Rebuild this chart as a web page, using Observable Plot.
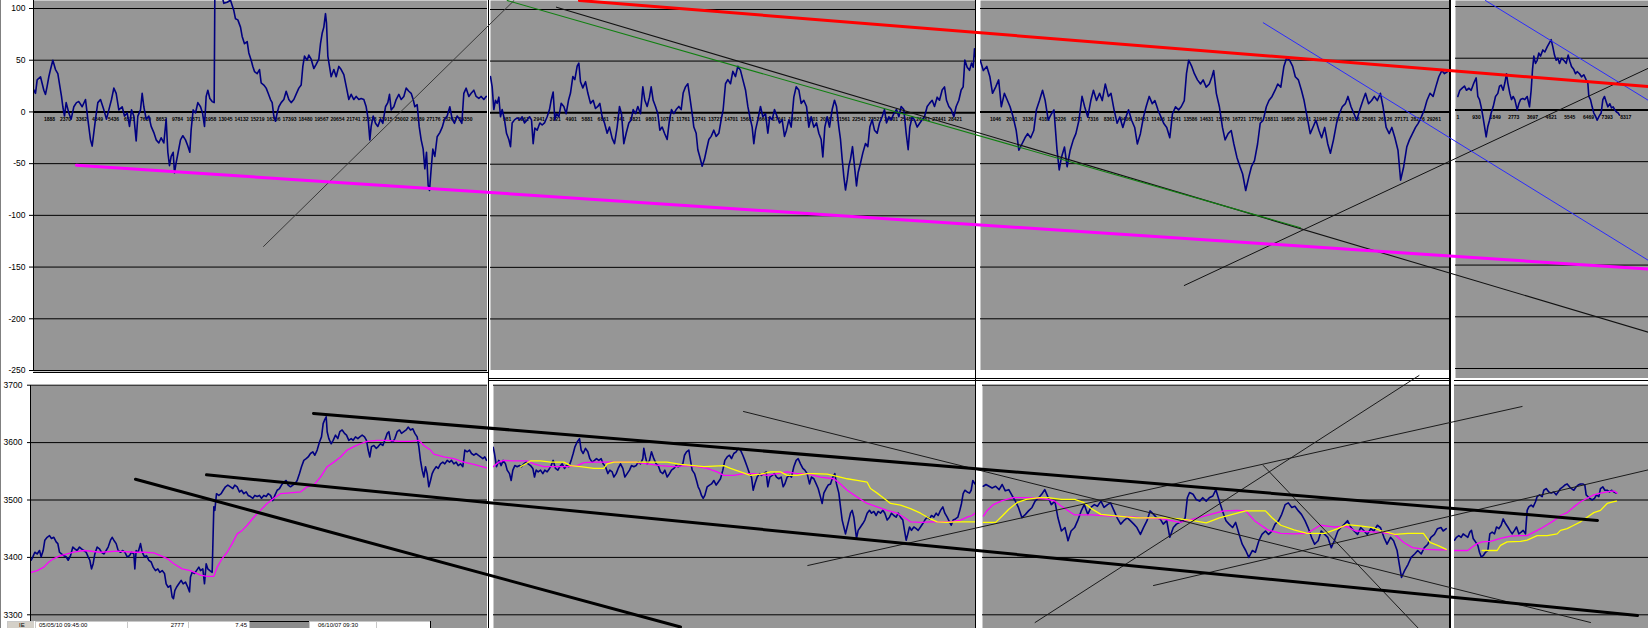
<!DOCTYPE html>
<html><head><meta charset="utf-8">
<script src="https://cdn.jsdelivr.net/npm/d3@7"></script>
<script src="https://cdn.jsdelivr.net/npm/@observablehq/plot@0.6"></script>
<style>
html,body{margin:0;padding:0;background:#fff;}
#root{position:relative;width:1648px;height:628px;overflow:hidden;background:#fff;font-family:"Liberation Sans",Arial,sans-serif;}
#root svg{position:absolute;overflow:hidden;}
.d{position:absolute;}
.sbc{position:absolute;top:0;height:7px;box-sizing:border-box;border-left:1px solid #c8c8c8;border-top:1px solid #c8c8c8;overflow:hidden;font:6px/6px "Liberation Sans",Arial,sans-serif;color:#000;white-space:nowrap;}
.sbc span{position:absolute;top:0px;}
</style></head><body><div id="root"></div><script>
// ---------------- DATA ----------------
// Oscillator (top) gridline / tick values
const oscTicks = [100, 50, 0, -50, -100, -150, -200, -250];
// Price (bottom) gridline / tick values
const priceTicks = [3700, 3600, 3500, 3400, 3300];

// Oscillator series, one per chart window: [bar, value]
const oscP1 = [[97,23],[105,18],[110,31],[120,34],[130,21],[135,17],[140,25],[145,34],[150,41],[157,50],[165,41],[172,37],[178,25],[183,15],[187,5],[192,-4],[197,9],[205,-1],[212,-7],[220,5],[228,9],[235,10],[245,5],[255,12],[262,-7],[270,-27],[275,-33],[280,-20],[285,-7],[292,9],[300,12],[310,2],[318,-7],[325,2],[333,12],[340,23],[347,18],[355,2],[365,5],[372,-4],[380,-1],[387,-14],[393,2],[400,-4],[407,-28],[412,-4],[420,2],[425,18],[430,5],[437,-7],[445,-4],[452,-14],[460,-20],[467,-27],[475,-30],[482,-25],[490,-30],[497,-7],[502,-39],[507,-52],[512,-43],[518,-39],[522,-59],[527,-49],[533,-39],[540,-27],[547,-23],[555,-27],[562,-33],[568,-39],[572,-17],[578,2],[585,-1],[592,9],[600,5],[606,-1],[612,-14],[617,15],[622,21],[628,13],[635,10],[641,9],[643,112],[650,115],[660,118],[670,105],[680,106],[690,108],[700,98],[705,90],[712,89],[720,82],[725,73],[732,66],[740,68],[745,57],[752,50],[757,44],[762,39],[770,37],[777,41],[782,28],[790,26],[797,23],[803,18],[810,12],[815,9],[820,-4],[825,-9],[830,-1],[835,5],[842,9],[850,12],[857,20],[865,12],[872,9],[880,12],[888,18],[895,23],[902,26],[907,44],[912,54],[920,50],[925,55],[932,51],[940,42],[947,46],[955,51],[960,66],[965,76],[970,82],[975,95],[978,86],[982,54],[987,44],[992,34],[1000,41],[1007,34],[1015,44],[1022,41],[1030,36],[1037,25],[1045,12],[1052,17],[1060,12],[1067,15],[1075,12],[1082,13],[1090,12],[1097,5],[1103,-7],[1108,-27],[1112,-14],[1118,-4],[1125,-11],[1132,-14],[1140,-7],[1147,-11],[1155,5],[1162,9],[1167,17],[1172,2],[1180,5],[1187,12],[1195,17],[1202,12],[1210,15],[1217,23],[1225,20],[1232,18],[1238,12],[1243,5],[1250,7],[1256,-14],[1262,-27],[1268,-36],[1273,-55],[1278,-39],[1283,-71],[1287,-76],[1292,-55],[1297,-36],[1303,-43],[1310,-24],[1318,-20],[1325,-15],[1332,-7],[1340,-4],[1348,5],[1355,-7],[1362,-11],[1370,-4],[1377,-7],[1384,-11],[1390,18],[1397,23],[1405,15],[1412,18],[1420,21],[1427,15],[1435,13],[1442,15],[1450,12],[1457,15]];
const oscP2 = [[30,35],[35,25],[40,3],[45,12],[50,9],[55,15],[60,-4],[65,3],[72,-7],[78,-20],[85,-26],[90,-33],[95,-10],[102,-7],[110,-5],[118,-7],[125,-4],[132,-10],[140,-7],[147,-4],[153,-7],[158,-30],[163,-15],[170,-17],[178,-10],[185,-12],[192,-10],[200,-4],[207,3],[212,12],[218,20],[223,-7],[228,-1],[235,-4],[242,9],[250,6],[257,-1],[264,12],[270,19],[277,35],[283,32],[290,45],[295,48],[300,30],[307,24],[315,30],[322,19],[330,9],[338,12],[345,4],[352,6],[358,9],[365,-4],[372,-10],[380,-20],[387,-14],[395,-25],[402,-30],[410,-14],[417,6],[423,-1],[430,-30],[437,-20],[445,-10],[452,-7],[458,3],[465,-1],[472,6],[480,-1],[487,25],[493,12],[500,6],[507,15],[512,25],[518,12],[525,6],[532,-1],[538,-17],[545,-14],[552,-20],[560,-26],[567,-7],[573,3],[580,-1],[587,3],[595,6],[602,3],[608,19],[615,25],[622,28],[628,15],[635,-1],[640,-14],[647,-20],[652,-36],[658,-43],[665,-52],[672,-45],[678,-36],[685,-26],[692,-23],[700,-17],[707,-23],[715,-20],[722,-7],[728,3],[735,28],[742,32],[750,28],[757,40],[765,35],[772,45],[780,41],[787,32],[795,22],[802,6],[808,-4],[815,-14],[820,-30],[825,-17],[832,-7],[840,6],[847,-4],[855,-1],[862,-20],[868,-4],[875,-7],[882,3],[890,-4],[897,-10],[905,-7],[912,-23],[918,-17],[925,-7],[932,-14],[940,15],[947,25],[955,22],[962,9],[970,12],[978,6],[985,-14],[992,-4],[1000,-14],[1008,-10],[1015,-20],[1022,-26],[1027,-43],[1033,-14],[1040,-4],[1047,-14],[1055,3],[1062,12],[1068,6],[1075,-14],[1080,-26],[1085,-45],[1090,-62],[1095,-75],[1100,-65],[1105,-52],[1110,-45],[1116,-33],[1122,-52],[1128,-71],[1133,-58],[1140,-49],[1147,-39],[1155,-30],[1162,-33],[1168,-14],[1175,-7],[1182,-17],[1190,-20],[1197,-10],[1205,-4],[1212,3],[1218,-10],[1225,-4],[1232,-7],[1240,-1],[1248,3],[1255,-4],[1262,6],[1270,3],[1277,-20],[1283,-36],[1288,-14],[1295,-4],[1302,-7],[1310,-14],[1318,-10],[1325,-7],[1332,-4],[1340,6],[1347,9],[1355,12],[1362,6],[1370,15],[1377,12],[1385,22],[1392,25],[1398,12],[1405,6],[1412,3],[1420,-4],[1427,6],[1435,12],[1442,22],[1448,25],[1453,51],[1460,44],[1467,41],[1473,48],[1478,44],[1482,62],[1485,54]];
const oscP3 = [[45,50],[52,40],[60,44],[67,34],[73,18],[80,24],[87,31],[93,5],[100,18],[107,11],[113,5],[120,-5],[127,-18],[133,-37],[140,-31],[147,-25],[153,-21],[160,-25],[167,-18],[173,2],[180,11],[187,21],[193,11],[200,-8],[207,-2],[213,2],[220,-37],[225,-56],[230,-44],[237,-34],[243,-53],[250,-37],[257,-27],[263,-21],[270,-8],[277,15],[283,5],[290,-5],[297,11],[303,21],[310,11],[317,18],[323,11],[330,27],[337,15],[343,18],[350,2],[357,-11],[363,-5],[370,-15],[377,-5],[383,2],[390,-8],[397,-15],[403,-31],[410,-21],[417,-5],[423,5],[430,15],[437,8],[443,11],[450,2],[457,-5],[463,-11],[470,-15],[477,-25],[483,-2],[490,5],[497,2],[503,5],[510,11],[515,37],[520,50],[527,44],[533,37],[540,31],[547,27],[553,31],[560,24],[567,27],[573,34],[577,40],[583,18],[590,5],[597,-15],[603,-27],[610,-21],[617,-18],[623,-31],[630,-44],[637,-53],[643,-60],[650,-76],[657,-63],[663,-53],[670,-47],[677,-31],[683,-11],[690,-8],[697,5],[703,11],[710,15],[717,21],[723,27],[730,24],[737,44],[743,52],[750,50],[757,44],[763,34],[770,31],[777,21],[783,11],[790,-5],[797,-21],[803,-15],[810,-8],[817,-18],[823,-25],[830,-15],[837,-31],[843,-40],[850,-27],[857,-11],[863,-2],[870,5],[877,8],[883,15],[890,5],[897,-2],[903,-8],[910,2],[917,11],[923,18],[930,8],[937,11],[943,15],[950,11],[957,18],[963,5],[970,-15],[977,-21],[983,-15],[990,-25],[997,-37],[1003,-66],[1010,-53],[1017,-34],[1023,-27],[1030,-21],[1037,-15],[1043,-11],[1050,-5],[1057,2],[1063,11],[1070,18],[1077,15],[1083,24],[1090,34],[1097,40],[1103,37],[1110,39]];
const oscP4 = [[232,13],[238,19],[245,21],[252,23],[258,19],[265,21],[272,19],[280,26],[287,31],[292,13],[297,10],[302,3],[307,-6],[312,-16],[317,-26],[322,-16],[327,-10],[332,-3],[338,3],[345,13],[352,16],[357,23],[362,24],[368,19],[373,26],[378,35],[382,26],[388,16],[393,10],[398,13],[403,10],[410,0],[415,6],[420,10],[427,11],[433,10],[440,13],[447,3],[452,19],[456,39],[460,52],[465,45],[470,48],[475,55],[480,52],[487,58],[493,56],[500,61],[507,65],[512,68],[517,61],[522,53],[527,48],[532,50],[537,45],[543,50],[550,48],[557,45],[563,53],[568,47],[573,42],[580,39],[585,35],[590,37],[597,35],[603,32],[610,34],[617,29],[622,26],[625,13],[630,10],[635,3],[640,-3],[645,-6],[650,-10],[656,-6],[662,-3],[667,10],[672,13],[677,8],[682,3],[688,6],[693,2],[698,3],[703,0],[708,-2],[713,-3],[717,-5]];

// Price series and moving averages, one set per chart window: [bar, value]
const priceP1 = [[92,3395],[97,3401],[103,3409],[110,3406],[117,3412],[122,3401],[128,3412],[133,3430],[140,3435],[147,3438],[153,3433],[160,3435],[167,3427],[172,3424],[177,3409],[183,3406],[190,3403],[197,3401],[203,3395],[210,3403],[217,3418],[223,3415],[230,3412],[237,3418],[243,3415],[250,3412],[257,3409],[263,3401],[268,3395],[273,3380],[278,3389],[283,3406],[290,3418],[297,3415],[303,3409],[310,3406],[317,3412],[323,3418],[330,3430],[335,3435],[340,3430],[347,3424],[353,3412],[360,3409],[367,3412],[373,3409],[380,3401],[387,3403],[393,3409],[400,3406],[403,3380],[407,3412],[413,3409],[420,3424],[425,3409],[432,3401],[438,3403],[445,3395],[452,3392],[458,3383],[465,3377],[472,3380],[478,3374],[485,3377],[492,3372],[497,3354],[503,3348],[510,3351],[515,3331],[519,3328],[523,3342],[528,3348],[535,3354],[542,3360],[548,3354],[555,3357],[562,3348],[567,3340],[570,3366],[575,3374],[582,3372],[588,3377],[595,3383],[600,3377],[607,3380],[612,3354],[617,3389],[622,3380],[628,3377],[635,3374],[640,3488],[643,3482],[648,3511],[655,3508],[662,3511],[668,3517],[675,3523],[682,3526],[690,3523],[697,3520],[703,3526],[710,3523],[717,3514],[723,3517],[730,3511],[737,3514],[743,3508],[750,3506],[757,3503],[763,3508],[770,3506],[777,3508],[783,3503],[790,3508],[797,3506],[803,3511],[810,3508],[817,3499],[823,3508],[830,3517],[837,3520],[843,3526],[850,3531],[857,3534],[863,3526],[870,3523],[877,3526],[883,3528],[890,3534],[897,3546],[903,3558],[910,3569],[917,3572],[923,3575],[930,3581],[937,3584],[943,3578],[950,3587],[957,3601],[963,3610],[968,3633],[972,3639],[977,3645],[980,3619],[985,3607],[992,3598],[998,3604],[1005,3613],[1012,3607],[1018,3619],[1025,3622],[1032,3616],[1038,3613],[1045,3604],[1052,3607],[1058,3604],[1065,3610],[1072,3607],[1078,3610],[1085,3613],[1092,3610],[1098,3604],[1103,3587],[1108,3575],[1113,3593],[1120,3595],[1127,3590],[1133,3593],[1140,3598],[1147,3595],[1153,3604],[1160,3616],[1165,3619],[1170,3604],[1177,3601],[1183,3607],[1190,3619],[1197,3622],[1203,3616],[1210,3619],[1217,3622],[1223,3627],[1230,3622],[1237,3624],[1243,3616],[1250,3610],[1255,3593],[1260,3569],[1265,3552],[1270,3540],[1275,3558],[1280,3546],[1285,3523],[1290,3534],[1295,3546],[1300,3552],[1307,3558],[1313,3555],[1320,3563],[1327,3566],[1333,3563],[1340,3569],[1347,3566],[1353,3569],[1360,3563],[1367,3566],[1373,3560],[1380,3563],[1387,3558],[1393,3587],[1400,3584],[1407,3587],[1413,3581],[1420,3578],[1427,3581],[1433,3578],[1440,3575],[1447,3572],[1453,3575],[1458,3569]];
const maPinkP1 = [[92,3374],[110,3377],[130,3383],[145,3392],[160,3398],[180,3403],[200,3406],[220,3409],[250,3412],[300,3409],[350,3411],[400,3409],[430,3409],[460,3408],[480,3403],[500,3398],[520,3389],[545,3380],[570,3377],[600,3369],[620,3367],[640,3367],[650,3383],[665,3398],[680,3409],[695,3424],[710,3441],[725,3447],[740,3456],[760,3470],[780,3482],[800,3494],[820,3503],[840,3511],[860,3512],[900,3514],[920,3523],[940,3526],[960,3540],[980,3558],[1000,3566],[1020,3575],[1040,3587],[1060,3593],[1080,3598],[1100,3602],[1130,3604],[1160,3604],[1200,3602],[1230,3602],[1255,3604],[1270,3595],[1290,3587],[1300,3580],[1330,3575],[1360,3572],[1390,3566],[1420,3562],[1458,3556]];

const priceP2 = [[38,3592],[42,3581],[48,3558],[55,3569],[62,3560],[68,3569],[75,3563],[80,3552],[87,3546],[92,3534],[97,3552],[103,3560],[110,3558],[117,3560],[123,3558],[130,3563],[137,3566],[143,3563],[150,3560],[157,3555],[162,3540],[167,3552],[173,3549],[180,3552],[187,3546],[193,3552],[200,3549],[207,3555],[212,3560],[218,3569],[225,3555],[232,3552],[238,3558],[245,3563],[252,3555],[258,3560],[265,3558],[272,3569],[278,3581],[283,3592],[290,3601],[297,3607],[302,3587],[308,3581],[315,3590],[322,3584],[328,3572],[335,3566],[342,3569],[348,3572],[355,3569],[362,3572],[368,3563],[375,3558],[382,3546],[388,3552],[395,3549],[400,3540],[407,3546],[413,3555],[420,3563],[427,3555],[433,3540],[440,3546],[447,3552],[453,3560],[460,3558],[467,3560],[473,3566],[480,3563],[487,3572],[490,3590],[495,3575],[500,3563],[507,3569],[513,3584],[520,3572],[527,3563],[533,3560],[540,3549],[547,3546],[553,3552],[560,3540],[567,3546],[573,3552],[580,3555],[587,3560],[593,3558],[600,3560],[607,3563],[612,3578],[618,3584],[625,3587],[630,3569],[635,3552],[642,3546],[648,3534],[653,3523],[658,3517],[663,3508],[668,3503],[673,3508],[680,3523],[687,3526],[693,3528],[700,3534],[707,3526],[713,3531],[720,3537],[727,3552],[733,3569],[740,3575],[747,3578],[753,3572],[760,3581],[767,3584],[773,3590],[780,3587],[787,3578],[793,3569],[800,3558],[807,3546],[813,3540],[818,3517],[823,3528],[830,3540],[837,3546],[843,3543],[850,3546],[857,3549],[862,3523],[868,3540],[875,3543],[882,3546],[888,3540],[895,3537],[902,3540],[908,3523],[913,3528],[920,3540],[927,3543],[933,3540],[940,3558],[947,3569],[953,3572],[960,3563],[967,3555],[973,3552],[980,3546],[987,3528],[993,3540],[1000,3537],[1007,3528],[1013,3520],[1020,3505],[1025,3494],[1030,3512],[1037,3520],[1043,3526],[1050,3528],[1057,3540],[1063,3546],[1068,3528],[1075,3512],[1080,3488],[1085,3465],[1090,3453],[1095,3441],[1100,3453],[1105,3465],[1110,3477],[1115,3482],[1120,3470],[1125,3447],[1128,3433],[1133,3447],[1140,3453],[1147,3459],[1153,3465],[1160,3477],[1167,3482],[1173,3477],[1180,3480],[1187,3473],[1193,3480],[1200,3477],[1207,3482],[1213,3477],[1220,3465],[1227,3470],[1233,3477],[1240,3473],[1247,3470],[1253,3477],[1260,3470],[1267,3465],[1272,3447],[1277,3430],[1282,3441],[1287,3453],[1293,3447],[1300,3453],[1307,3450],[1313,3447],[1320,3453],[1327,3459],[1333,3465],[1340,3470],[1347,3467],[1353,3473],[1360,3470],[1367,3477],[1373,3473],[1380,3482],[1387,3488],[1393,3477],[1400,3470],[1407,3462],[1412,3456],[1418,3465],[1425,3467],[1432,3470],[1438,3482],[1443,3494],[1448,3511],[1453,3517],[1460,3514],[1467,3512],[1472,3517],[1477,3534],[1483,3528]];
const maPinkP2 = [[38,3558],[55,3566],[70,3569],[100,3568],[140,3568],[160,3563],[190,3558],[230,3558],[260,3558],[290,3560],[310,3565],[340,3566],[380,3566],[420,3566],[460,3566],[500,3563],[540,3560],[580,3558],[620,3560],[650,3558],[680,3555],[710,3549],[730,3543],[760,3543],[790,3546],[820,3546],[860,3543],[890,3546],[920,3549],[950,3546],[980,3546],[1020,3540],[1060,3537],[1080,3528],[1100,3517],[1130,3505],[1160,3494],[1190,3488],[1220,3482],[1250,3477],[1270,3470],[1290,3462],[1320,3461],[1350,3462],[1380,3462],[1410,3462],[1440,3465],[1460,3470],[1475,3473],[1483,3477]];
const maYellowP2 = [[120,3558],[150,3568],[180,3568],[210,3566],[250,3566],[270,3560],[300,3558],[340,3555],[370,3555],[380,3563],[400,3566],[450,3566],[500,3566],[560,3566],[600,3562],[640,3560],[670,3558],[700,3559],[730,3560],[750,3555],[780,3549],[810,3543],[840,3545],[870,3549],[900,3549],[920,3543],[950,3543],[980,3546],[1000,3546],[1040,3545],[1070,3541],[1100,3537],[1130,3534],[1160,3531],[1170,3520],[1190,3512],[1210,3503],[1230,3494],[1260,3491],[1290,3485],[1320,3477],[1350,3467],[1370,3462],[1400,3461],[1430,3462],[1460,3462],[1483,3462]];

const priceP3 = [[52,3524],[58,3527],[65,3524],[72,3521],[80,3524],[88,3518],[95,3527],[102,3516],[110,3518],[118,3507],[125,3498],[132,3487],[140,3469],[148,3475],[155,3481],[163,3487],[170,3498],[178,3504],[185,3510],[192,3518],[200,3504],[207,3492],[215,3498],[222,3469],[230,3446],[238,3452],[245,3429],[252,3446],[260,3452],[267,3464],[275,3481],[282,3492],[290,3475],[297,3487],[305,3492],[312,3489],[320,3498],[327,3487],[335,3492],[342,3495],[350,3481],[357,3469],[365,3458],[372,3464],[380,3469],[387,3464],[395,3458],[402,3452],[410,3440],[417,3452],[425,3464],[432,3481],[440,3475],[447,3469],[455,3467],[462,3458],[470,3464],[477,3435],[485,3452],[492,3458],[500,3461],[507,3464],[512,3469],[517,3504],[522,3513],[530,3510],[537,3501],[545,3498],[552,3504],[560,3498],[567,3504],[575,3507],[582,3518],[590,3498],[597,3481],[605,3464],[612,3458],[620,3452],[627,3461],[635,3440],[642,3423],[650,3412],[657,3400],[665,3412],[672,3409],[680,3429],[687,3440],[695,3446],[702,3440],[710,3446],[717,3458],[725,3464],[732,3475],[740,3492],[747,3495],[755,3487],[762,3489],[770,3481],[777,3475],[785,3464],[792,3452],[800,3435],[807,3423],[815,3429],[822,3446],[830,3440],[837,3435],[845,3417],[852,3429],[860,3446],[867,3452],[875,3458],[882,3464],[890,3452],[897,3446],[905,3440],[912,3452],[920,3446],[927,3440],[935,3450],[942,3446],[950,3456],[957,3452],[965,3435],[972,3423],[980,3435],[987,3429],[995,3412],[1000,3388],[1005,3365],[1012,3377],[1020,3388],[1027,3400],[1035,3406],[1042,3412],[1050,3406],[1057,3417],[1065,3423],[1072,3435],[1080,3440],[1087,3450],[1095,3452],[1100,3446],[1107,3450]];
const maPinkP3 = [[52,3472],[60,3481],[75,3492],[95,3499],[120,3504],[150,3504],[180,3503],[200,3501],[215,3498],[230,3489],[260,3474],[300,3474],[340,3472],[380,3471],[420,3469],[460,3467],[500,3461],[540,3469],[570,3475],[600,3481],[630,3482],[650,3481],[670,3464],[700,3448],[730,3442],[760,3441],[790,3442],[820,3456],[850,3453],[880,3454],[900,3446],[930,3445],[960,3443],[990,3440],[1010,3426],[1030,3417],[1060,3414],[1090,3413],[1107,3413]];
const maYellowP3 = [[52,3461],[80,3461],[95,3472],[110,3484],[130,3496],[150,3501],[180,3504],[200,3504],[230,3501],[260,3501],[280,3496],[300,3484],[320,3475],[360,3472],[400,3469],[440,3469],[470,3469],[500,3467],[530,3464],[560,3460],[590,3469],[620,3475],[650,3481],[695,3481],[710,3469],[730,3456],[760,3448],[790,3442],[830,3442],[860,3450],[880,3457],[910,3455],[940,3452],[960,3446],[990,3440],[1020,3442],[1055,3442],[1070,3426],[1090,3420],[1107,3414]];

const priceP4 = [[222,3430],[228,3435],[235,3438],[242,3435],[248,3441],[255,3438],[262,3435],[268,3444],[273,3447],[278,3433],[285,3427],[292,3421],[297,3409],[302,3401],[308,3403],[315,3409],[322,3412],[328,3441],[335,3444],[342,3441],[348,3453],[355,3450],[362,3456],[368,3467],[375,3459],[382,3453],[388,3447],[395,3441],[402,3447],[408,3453],[415,3441],[422,3444],[428,3447],[435,3441],[440,3482],[445,3488],[452,3491],[458,3488],[465,3497],[470,3506],[477,3509],[485,3506],[490,3517],[497,3520],[505,3514],[512,3512],[520,3514],[527,3509],[533,3514],[540,3520],[547,3523],[553,3526],[560,3528],[567,3523],[573,3520],[580,3517],[587,3523],[593,3526],[600,3528],[607,3528],[613,3526],[617,3509],[622,3506],[628,3503],[635,3500],[642,3503],[648,3509],[655,3506],[660,3520],[667,3523],[673,3517],[680,3517],[687,3514],[693,3517],[700,3514],[707,3512]];
const maPinkP4 = [[222,3412],[262,3412],[275,3418],[290,3424],[305,3427],[330,3428],[360,3433],[390,3437],[420,3438],[440,3438],[460,3444],[480,3450],[500,3457],[520,3464],[540,3473],[560,3478],[580,3488],[600,3497],[620,3503],[640,3509],[660,3512],[680,3514],[700,3516],[710,3512]];
const maYellowP4 = [[305,3412],[350,3412],[360,3421],[380,3427],[420,3428],[440,3430],[470,3438],[500,3438],[530,3441],[540,3447],[560,3450],[580,3456],[600,3462],[620,3470],[640,3478],[660,3482],[680,3494],[700,3497],[708,3498]];

// Category-axis labels printed along the zero line of each oscillator window
const barLabelsP1 = ["1888","2370","3362","4349","5436","6523","7610","8652","9784","10871","11958","13045","14132","15219","16306","17393","18480","19567","20654","21741","22828","23915","25002","26089","27176","28263","29350"];
const barLabelsP2 = ["981","1961","2941","3921","4901","5881","6861","7841","8821","9801","10781","11761","12741","13721","14701","15681","16661","17641","18621","19601","20581","21561","22541","23521","24501","25481","26461","27441","28421"];
const barLabelsP3 = ["1046","2091","3136","4181","5226","6271","7316","8361","9406","10451","11496","12541","13586","14631","15676","16721","17766","18811","19856","20901","21946","22991","24036","25081","26126","27171","28216","29261"];
const barLabelsP4 = ["1","930","1849","2773","3697","4621","5545","6469","7393","8317"];

// Hand-drawn trend lines (screen column, value)
const trendMagenta = [[76,-51.5],[1648,-152]];
const trendRed = [[579,107.7],[1648,24.6]];
const trendGrayUp = [[263,-130.1],[513.5,107.7]];
const trendGreen = [[506.7,107.7],[1300,-112.0]];
const trendBlackDown = [[556,101.3],[1648,-213]];
const trendBlackUp = [[1183.8,-167.8],[1648,42.3]];
const trendBlue1 = [[1262.8,86.2],[1648,-143.6]];
const trendBlue2 = [[1485,107.7],[1648,11.1]];

const chanUpper = [[313,3650.7],[1597,3464.3]];
const chanLower = [[206,3543.9],[1637,3298.8]];
const chanSteep = [[135,3536.2],[680,3278.7]];
const thin1 = [[743,3654.2],[1590,3286.6]];
const thin2 = [[1034.6,3286.6],[1418.5,3716.9]];
const thin3 = [[807.3,3385.9],[1521.6,3662.9]];
const thin4 = [[1153,3351],[1648,3552.6]];
const thin5 = [[1262.8,3560.1],[1420,3272.6]];

// Status bar texts
const statusTexts = ["IE","05/05/10 09:45:00","2777","7.45","","06/10/07 09:30","" ];

// ---------------- DRAWING ----------------
const root = document.getElementById("root");
const GRAY = "#969696", NAVY = "#000080", FONT = "'Liberation Sans', Arial, sans-serif";
const X = d => d[0], Y = d => d[1];

function mount(el, left, top) {
  el.style.position = "absolute";
  el.style.left = left + "px";
  el.style.top = top + "px";
  root.appendChild(el);
}
function box(left, top, w, h, color) {
  const e = document.createElement("div");
  e.className = "d";
  e.style.cssText = `left:${left}px;top:${top}px;width:${w}px;height:${h}px;background:${color};`;
  root.appendChild(e);
}

function oscPane(p) {
  const marks = [
    Plot.frame({fill: GRAY, stroke: "none"}),
    Plot.ruleY(oscTicks.filter(d => d !== 0), {stroke: "#000", strokeWidth: 1}),
    Plot.text(p.labels, {x: (d, i) => p.lab0 + i * p.labStep, y: 0, dy: 7, text: d => d, fontSize: 5, fontWeight: "bold", fill: "#000"}),
    Plot.ruleY([0], {stroke: "#000", strokeWidth: 2}),
    Plot.line(p.series, {x: X, y: Y, stroke: NAVY, strokeWidth: 1.6, clip: true})
  ];
  if (p.axis) {
    marks.push(Plot.ruleX([p.domain[0]], {stroke: "#000", strokeWidth: 1}));
    marks.push(Plot.axisY(oscTicks, {anchor: "left", tickSize: 4, tickPadding: 4, fontSize: 8.5, tickFormat: d => String(d), fill: "#000", stroke: "#000"}));
  }
  return Plot.plot({
    width: p.width, height: p.height,
    marginLeft: p.marginLeft || 0, marginRight: 0, marginTop: 0, marginBottom: p.marginBottom || 0,
    x: {domain: p.domain, axis: null},
    y: p.axis ? {domain: [-250, 100], range: p.yRange} : {domain: [-250, 100], range: p.yRange, axis: null},
    style: {background: "transparent", fontFamily: FONT, color: "#000", overflow: "hidden"},
    marks
  });
}

function pricePane(p) {
  const marks = [
    Plot.frame({fill: GRAY, stroke: "none"}),
    Plot.ruleY(priceTicks, {stroke: "#000", strokeWidth: 1}),
    Plot.line(p.series, {x: X, y: Y, stroke: NAVY, strokeWidth: 1.6, clip: true})
  ];
  if (p.pink) marks.push(Plot.line(p.pink, {x: X, y: Y, stroke: "#ff00ff", strokeWidth: 1.3, clip: true}));
  if (p.yellow) marks.push(Plot.line(p.yellow, {x: X, y: Y, stroke: "#ffff00", strokeWidth: 1.3, clip: true}));
  if (p.axis) {
    marks.push(Plot.ruleX([p.domain[0]], {stroke: "#000", strokeWidth: 1}));
    marks.push(Plot.axisY(priceTicks, {anchor: "left", tickSize: 3, tickPadding: 5, fontSize: 8.5, tickFormat: d => String(d), fill: "#000", stroke: "#000"}));
  }
  return Plot.plot({
    width: p.width, height: 258,
    marginLeft: p.marginLeft || 0, marginRight: 0, marginTop: 15, marginBottom: 0,
    x: {domain: p.domain, axis: null},
    y: p.axis ? {domain: [3300, 3700], range: [244.3, 14.7]} : {domain: [3300, 3700], range: [244.3, 14.7], axis: null},
    style: {background: "transparent", fontFamily: FONT, color: "#000", overflow: "hidden"},
    marks
  });
}

// bottom windows
mount(pricePane({series: priceP1, pink: maPinkP1, width: 487, marginLeft: 30, domain: [90, 1461], axis: true}), 0, 370);
mount(pricePane({series: priceP2, pink: maPinkP2, yellow: maYellowP2, width: 483, domain: [39, 1488]}), 493, 370);
mount(pricePane({series: priceP3, pink: maPinkP3, yellow: maYellowP3, width: 467, domain: [50.1, 1114.4]}), 982, 370);
mount(pricePane({series: priceP4, pink: maPinkP4, yellow: maYellowP4, width: 195, domain: [219, 804]}), 1453, 370);

// top windows
mount(oscPane({series: oscP1, labels: barLabelsP1, lab0: 147, labStep: 48, width: 487, height: 376, marginLeft: 33, marginBottom: 5, domain: [99, 1461], yRange: [370, 8], axis: true}), 0, 0);
mount(oscPane({series: oscP2, labels: barLabelsP2, lab0: 80, labStep: 48, width: 486, height: 370, domain: [30, 1488], yRange: [370, 9]}), 490, 0);
mount(oscPane({series: oscP3, labels: barLabelsP3, lab0: 80, labStep: 37, width: 469, height: 370, domain: [45.6, 1114.4], yRange: [370, 8]}), 980, 0);
mount(oscPane({series: oscP4, labels: barLabelsP4, lab0: 232, labStep: 56, width: 193, height: 378, domain: [225, 804], yRange: [368, 6]}), 1455, 0);

// window borders
box(0, 0, 1, 628, "#808080");
box(33, 372, 456, 1, "#000");
box(488, 0, 1, 628, "#000");
box(488, 378, 488, 1, "#000");
box(975, 0, 1, 628, "#000");
box(976, 378, 474, 1, "#000");
box(488, 380, 1160, 1, "#000");
box(1449, 0, 2, 628, "#000");
box(1451, 0, 3, 628, "#fff");

// trend-line overlays
const ov = {width: 1648, marginLeft: 0, marginRight: 0, marginTop: 0, marginBottom: 0, style: {background: "transparent", overflow: "hidden"}};
mount(Plot.plot({...ov, height: 380,
  x: {domain: [0, 1648], range: [0, 1648], axis: null},
  y: {domain: [-250, 100], range: [370, 8], axis: null},
  marks: [
    Plot.line(trendGrayUp, {x: X, y: Y, stroke: "#3a3a3a", strokeWidth: 1}),
    Plot.line(trendBlackDown, {x: X, y: Y, stroke: "#111", strokeWidth: 1.1}),
    Plot.line(trendGreen, {x: X, y: Y, stroke: "#108010", strokeWidth: 1.1}),
    Plot.line(trendBlackUp, {x: X, y: Y, stroke: "#111", strokeWidth: 1}),
    Plot.line(trendBlue1, {x: X, y: Y, stroke: "#2a2aff", strokeWidth: 1}),
    Plot.line(trendBlue2, {x: X, y: Y, stroke: "#2a2aff", strokeWidth: 1}),
    Plot.line(trendMagenta, {x: X, y: Y, stroke: "#ff00ff", strokeWidth: 3}),
    Plot.line(trendRed, {x: X, y: Y, stroke: "#ff0000", strokeWidth: 3})
  ]}), 0, 0);
mount(Plot.plot({...ov, height: 258,
  x: {domain: [0, 1648], range: [0, 1648], axis: null},
  y: {domain: [3300, 3700], range: [244.3, 14.7], axis: null},
  marks: [
    Plot.line(thin1, {x: X, y: Y, stroke: "#1a1a1a", strokeWidth: 1}),
    Plot.line(thin2, {x: X, y: Y, stroke: "#1a1a1a", strokeWidth: 1}),
    Plot.line(thin3, {x: X, y: Y, stroke: "#1a1a1a", strokeWidth: 1}),
    Plot.line(thin4, {x: X, y: Y, stroke: "#1a1a1a", strokeWidth: 1}),
    Plot.line(thin5, {x: X, y: Y, stroke: "#1a1a1a", strokeWidth: 1}),
    Plot.line(chanUpper, {x: X, y: Y, stroke: "#000", strokeWidth: 3}),
    Plot.line(chanLower, {x: X, y: Y, stroke: "#000", strokeWidth: 3}),
    Plot.line(chanSteep, {x: X, y: Y, stroke: "#000", strokeWidth: 3})
  ]}), 0, 370);

// status bar
const sb = document.createElement("div");
sb.className = "d";
sb.style.cssText = "left:0;top:621px;width:431px;height:7px;overflow:hidden;background:#fff;border-right:1px solid #000;box-sizing:border-box;";
const cells = [
  {l: 7, w: 27, bg: "#d4d0c8", pad: 11, align: "left"},
  {l: 35, w: 92, bg: "#fff", pad: 3, align: "left"},
  {l: 127, w: 61, bg: "#fff", pad: 4, align: "right"},
  {l: 188, w: 61, bg: "#fff", pad: 2, align: "right"},
  {l: 249, w: 60, bg: "#8c8c8c", pad: 0, align: "left"},
  {l: 309, w: 67, bg: "#fff", pad: 8, align: "left"},
  {l: 376, w: 54, bg: "#fff", pad: 0, align: "left"}
];
cells.forEach((c, i) => {
  const e = document.createElement("div");
  e.className = "sbc";
  e.style.left = c.l + "px"; e.style.width = c.w + "px"; e.style.background = c.bg;
  if (i === 4) e.style.borderTop = "1px solid #000";
  const s = document.createElement("span");
  s.textContent = statusTexts[i];
  if (c.align === "right") s.style.right = c.pad + "px"; else s.style.left = c.pad + "px";
  e.appendChild(s);
  sb.appendChild(e);
});
root.appendChild(sb);
box(0, 621, 1, 7, "#808080");
</script></body></html>
